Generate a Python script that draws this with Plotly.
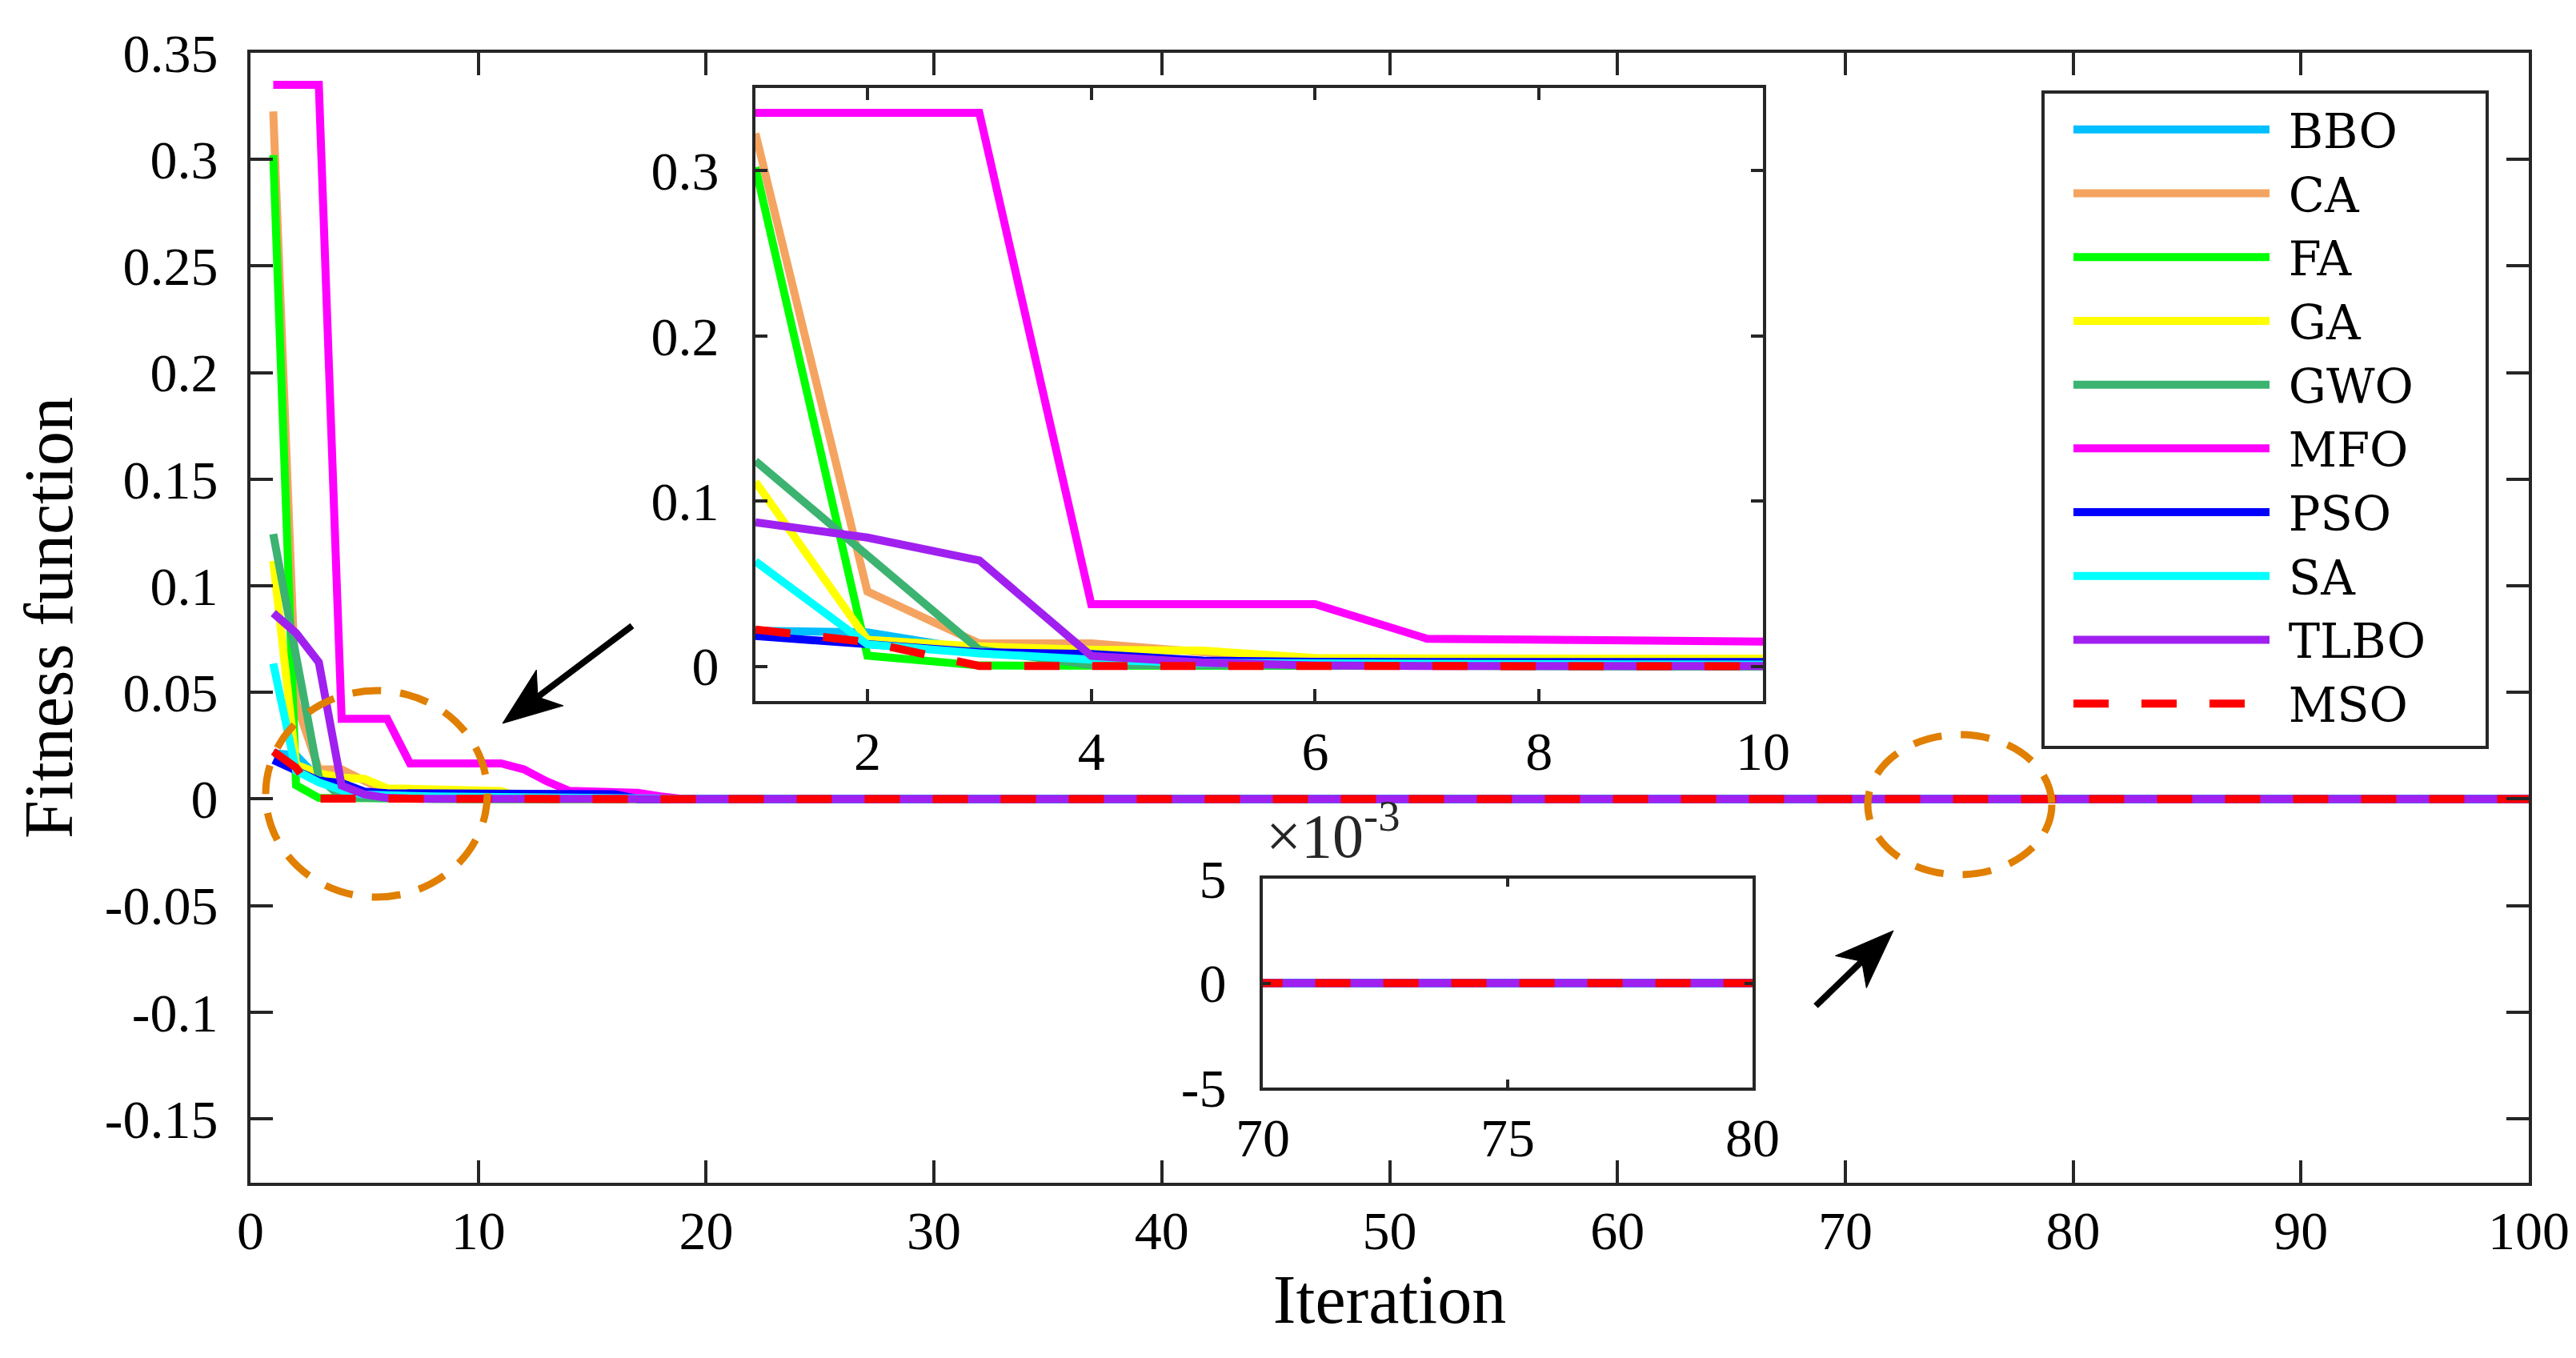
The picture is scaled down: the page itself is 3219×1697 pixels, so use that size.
import plotly.graph_objects as go

# iterations and convergence curves (flat after the listed points)
n_iter = 100
iterations = list(range(1, n_iter + 1))

bbo = [0.0215, 0.0205, 0.0095, 0.0045, 0.0012, 0.0005, 0.0003, 0.0002, 0.0001, 0.0001, 0.0]
ca = [0.3225, 0.0453, 0.0139, 0.0139, 0.0085, 0.0035, 0.0025, 0.0015, 0.0008, 0.0003, 0.0]
fa = [0.302, 0.0065, 0.0005, 0.0003, 0.0002, 0.0001, 0.0]
ga = [0.1117, 0.0161, 0.0120, 0.0100, 0.0095, 0.0050, 0.0048, 0.0046, 0.0040, 0.0038, 0.0037, 0.0003, 0.0]
gwo = [0.1243, 0.0670, 0.0100, 0.0008, 0.0004, 0.0002, 0.0]
mfo = [0.335, 0.335, 0.335, 0.0376, 0.0376, 0.0376, 0.0167, 0.0167, 0.0167, 0.0167, 0.0167,
       0.0139, 0.0083, 0.0038, 0.0036, 0.0033, 0.0029, 0.0012, 0.0]
pso = [0.0183, 0.0133, 0.0085, 0.0075, 0.0035, 0.0027, 0.0026, 0.0026, 0.0025, 0.0025, 0.0025,
       0.0025, 0.0024, 0.0024, 0.0023, 0.0022, 0.0]
sa = [0.0635, 0.0133, 0.0078, 0.0041, 0.0020, 0.0015, 0.0013, 0.0012, 0.0011, 0.0010, 0.0]
tlbo = [0.0872, 0.0779, 0.0641, 0.0063, 0.0022, 0.0005, 0.0002, 0.0001, 0.0]
mso = [0.0223, 0.0147, 0.0002, 0.0001, 0.0]

names = ["BBO", "CA", "FA", "GA", "GWO", "MFO", "PSO", "SA", "TLBO", "MSO"]
curves = [bbo, ca, fa, ga, gwo, mfo, pso, sa, tlbo, mso]
colors = ["#00BFFF", "#F4A460", "#00FF00", "#FFFF00", "#3CB371",
          "#FF00FF", "#0000FF", "#00FFFF", "#A020F0", "#FF0000"]

main_yticks = [-0.15, -0.1, -0.05, 0, 0.05, 0.1, 0.15, 0.2, 0.25, 0.3, 0.35]
main_ytext = ["-0.15", "-0.1", "-0.05", "0", "0.05", "0.1", "0.15", "0.2", "0.25", "0.3", "0.35"]

W, H = 3219, 1697
L, R, T, B = 305, 3152, 58, 1470  # main axes box in pixels


def px(x):
    return (x - L) / (R - L)


def py(y):
    return (B - y) / (B - T)


def pad(vals):
    return vals + [vals[-1]] * (n_iter - len(vals))


fig = go.Figure()

for name, vals, col in zip(names, curves, colors):
    dash = "44px,41px" if name == "MSO" else "solid"
    y = pad(vals)
    for k, (xa, ya) in enumerate([("x", "y"), ("x2", "y2"), ("x3", "y3")]):
        fig.add_trace(go.Scatter(
            x=iterations, y=y, mode="lines", name="\u00a0" + name,
            line=dict(color=col, width=10, dash=dash),
            xaxis=xa, yaxis=ya, showlegend=(k == 0), hoverinfo="skip"))

axis_common = dict(showline=True, linewidth=4, linecolor="#262626", mirror="ticks",
                   ticks="inside", tickwidth=4, tickcolor="#262626",
                   showgrid=False, zeroline=False,
                   tickfont=dict(family="Liberation Serif", size=68, color="black"))

fig.update_layout(
    width=W, height=H, autosize=False,
    margin=dict(l=L, r=W - R, t=T, b=H - B, pad=0),
    paper_bgcolor="white", plot_bgcolor="white",
    font=dict(family="Liberation Serif", color="black"),
    xaxis=dict(domain=[0, 1], range=[0, 100], tickvals=list(range(0, 101, 10)),
               ticklen=28, ticklabelstandoff=-3,
               title=dict(text="Iteration", font=dict(size=86), standoff=18),
               **axis_common),
    yaxis=dict(domain=[0, 1], range=[-0.18, 0.35], tickvals=main_yticks, ticktext=main_ytext,
               ticklen=28, ticklabelstandoff=23,
               title=dict(text="Fitness function", font=dict(size=86), standoff=13),
               **axis_common),
    xaxis2=dict(domain=[px(936), px(2195)], anchor="y2", range=[1, 10],
                tickvals=[2, 4, 6, 8, 10], ticklen=15, ticklabelstandoff=0, **axis_common),
    yaxis2=dict(domain=[py(868), py(102)], anchor="x2", range=[-0.021, 0.35],
                tickvals=[0, 0.1, 0.2, 0.3], ticktext=["0", "0.1", "0.2", "0.3"],
                ticklen=15, ticklabelstandoff=28, **axis_common),
    xaxis3=dict(domain=[px(1570), px(2182)], anchor="y3", range=[70, 80],
                tickvals=[70, 75, 80], ticklen=10, ticklabelstandoff=0, **axis_common),
    yaxis3=dict(domain=[py(1351), py(1090)], anchor="x3", range=[-0.005, 0.005],
                tickvals=[-0.005, 0, 0.005], ticktext=["-5", "0", "5"],
                ticklen=10, ticklabelstandoff=28, **axis_common),
    legend=dict(x=px(2578), y=py(109), xanchor="left", yanchor="top",
                bgcolor="rgba(0,0,0,0)", borderwidth=0, itemwidth=245,
                font=dict(family="DejaVu Serif", size=59, color="black"),
                tracegroupgap=0),
)

# legend frame
fig.add_shape(type="rect", xref="paper", yref="paper",
              x0=px(2545), x1=px(3100), y0=py(926), y1=py(107),
              line=dict(color="#262626", width=4), fillcolor="white", layer="below")

# x10^-3 exponent label of the small inset
fig.add_annotation(xref="paper", yref="paper", x=px(1572), y=py(1082),
                   xanchor="left", yanchor="bottom", showarrow=False,
                   text="×10<sup>-3</sup>", font=dict(size=78, color="#262626"))

# dashed ellipses marking the zoomed regions
for x0, x1, y0, y1 in [(324, 601, 855, 1113), (2326, 2556, 910, 1085)]:
    fig.add_shape(type="circle", xref="paper", yref="paper",
                  x0=px(x0), x1=px(x1), y0=py(y1), y1=py(y0),
                  line=dict(color="#E07F00", width=9, dash="36px,24px"))

# arrows pointing to the ellipses
for (tx, ty), (hx, hy) in [((782, 774), (620, 896)), ((2261, 1249), (2358, 1155))]:
    dx, dy = hx - tx, hy - ty
    ln = (dx * dx + dy * dy) ** 0.5
    ux, uy = dx / ln, dy / ln
    nx, ny = -uy, ux
    bx, by = hx - 74 * ux, hy - 74 * uy
    mx, my = hx - 55 * ux, hy - 55 * uy
    fig.add_shape(type="line", xref="paper", yref="paper",
                  x0=px(tx), y0=py(ty), x1=px(mx), y1=py(my),
                  line=dict(color="black", width=8))
    pts = [(hx, hy), (bx + 28 * nx, by + 28 * ny), (mx, my), (bx - 28 * nx, by - 28 * ny)]
    path = "M " + " L ".join(f"{px(a):.5f},{py(b):.5f}" for a, b in pts) + " Z"
    fig.add_shape(type="path", xref="paper", yref="paper", path=path,
                  fillcolor="black", line=dict(color="black", width=1))

fig.write_html("out.html")
